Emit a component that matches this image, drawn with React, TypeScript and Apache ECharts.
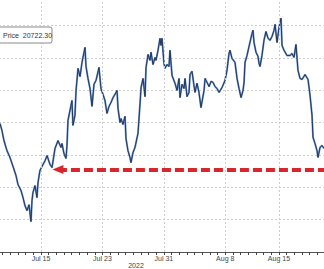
import React, { useEffect, useRef } from "react";
import * as echarts from "echarts";

// x values are days counted from Jul 0, 2022 (Aug d = 31 + d)
const days = [9.65, 9.91, 10.17, 10.56, 10.95, 11.35, 11.74, 12.0, 12.39, 12.65, 12.91, 13.17, 13.43, 13.69, 13.82, 13.95, 14.21, 14.47, 14.6, 14.86, 15.12, 15.52, 15.78, 16.17, 16.43, 16.82, 17.21, 17.6, 17.73, 17.99, 18.25, 18.38, 18.51, 18.77, 19.03, 19.16, 19.42, 19.56, 19.82, 20.08, 20.34, 20.6, 20.73, 20.86, 21.12, 21.38, 21.64, 21.9, 22.16, 22.55, 22.81, 23.07, 23.33, 23.59, 23.86, 24.12, 24.38, 24.64, 24.9, 25.03, 25.29, 25.42, 25.68, 25.94, 26.07, 26.33, 26.59, 26.72, 26.98, 27.24, 27.63, 27.9, 28.03, 28.29, 28.55, 28.68, 28.94, 29.2, 29.33, 29.59, 29.85, 29.98, 30.24, 30.5, 30.63, 30.76, 31.02, 31.15, 31.41, 31.67, 31.8, 32.07, 32.46, 32.72, 32.98, 33.11, 33.37, 33.63, 33.76, 34.02, 34.28, 34.41, 34.67, 34.93, 35.06, 35.32, 35.58, 35.84, 36.24, 36.37, 36.63, 36.89, 37.15, 37.41, 37.67, 37.93, 38.19, 38.58, 38.97, 39.23, 39.49, 39.62, 39.88, 40.27, 40.54, 40.8, 41.06, 41.32, 41.45, 41.58, 41.84, 42.1, 42.49, 42.62, 42.75, 43.01, 43.27, 43.4, 43.53, 43.79, 44.05, 44.31, 44.58, 44.84, 45.1, 45.36, 45.49, 45.75, 46.01, 46.27, 46.4, 46.66, 47.05, 47.44, 47.7, 47.96, 48.22, 48.48, 48.75, 49.01, 49.4, 49.79, 50.05, 50.31, 50.44, 50.7, 50.96, 51.09, 51.35, 51.61, 51.87];

const prices = [21970, 21750, 21440, 21130, 20920, 20640, 20360, 20080, 19900, 19680, 19430, 19280, 19460, 18940, 19590, 19840, 20050, 19680, 20140, 20520, 20640, 20820, 20980, 20700, 20610, 21200, 21440, 21230, 21350, 21040, 20890, 21290, 22060, 22370, 22680, 21910, 22220, 22990, 23670, 23420, 23860, 24170, 24320, 23730, 23360, 23050, 22500, 23180, 23300, 23700, 23050, 22870, 22680, 22280, 22500, 22620, 22770, 22870, 22990, 22430, 22000, 22120, 21940, 22190, 21500, 21130, 20920, 20760, 21070, 21230, 21660, 22590, 23080, 23360, 22800, 23700, 24100, 23920, 24170, 23790, 24010, 23920, 24230, 24600, 24380, 24600, 23830, 23670, 23790, 23730, 24230, 23450, 23210, 22990, 23360, 22770, 23180, 23050, 23360, 22800, 22930, 23480, 23580, 23140, 22930, 23210, 22930, 22460, 22990, 23360, 23240, 23110, 23270, 23240, 23110, 23050, 22930, 23080, 23300, 23610, 24130, 24230, 23980, 23860, 23360, 23050, 22770, 22990, 23240, 23860, 24070, 24350, 24750, 24850, 24470, 24170, 24040, 23830, 23730, 24070, 24540, 24810, 24600, 24540, 24660, 24850, 25030, 24470, 24940, 25220, 24380, 24230, 24070, 24070, 24130, 24010, 24410, 23610, 23360, 23330, 23480, 23330, 22840, 22220, 21540, 21350, 21130, 20920, 21230, 21290, 21200];

const tickDays = [15, 23, 31, 39, 46];
const tickLabels = ["Jul 15", "Jul 23", "Jul 31", "Aug 8", "Aug 15"];
const yearLabel = "2022";
const priceLabel = "Price  20722.30";
const arrowLevel = 20550;
const arrowFromDay = 17.2;
const arrowToDay = 52;

export default function App() {
  const ref = useRef<HTMLDivElement>(null);
  useEffect(() => {
    if (!ref.current) return;
    const chart = echarts.init(ref.current, null, { renderer: "svg" });
    const font = "'Liberation Sans', Arial, sans-serif";
    const points = days.map((d, i) => [d, prices[i]]);
    chart.setOption({
      animation: false,
      backgroundColor: "#ffffff",
      grid: {
        left: -5,
        right: -1,
        top: -7,
        bottom: 17,
        containLabel: false,
        outerBoundsMode: "none",
      },
      xAxis: {
        type: "value",
        min: 9,
        max: 52,
        interval: 1,
        axisLine: { show: true, lineStyle: { color: "#555", width: 1 } },
        axisTick: { show: true, length: 3, lineStyle: { color: "#444", width: 1 } },
        axisLabel: {
          fontSize: 7,
          color: "#444",
          margin: 3,
          fontFamily: font,
          formatter: (v: number) => {
            const i = tickDays.indexOf(Math.round(v));
            return i >= 0 && Math.abs(v - tickDays[i]) < 1e-6 ? tickLabels[i] : "";
          },
        },
        splitLine: { show: false },
      },
      yAxis: {
        type: "value",
        min: 18000,
        max: 26000,
        interval: 1000,
        axisLine: { show: false },
        axisTick: { show: false },
        axisLabel: { show: false },
        splitLine: { show: true, lineStyle: { color: "#cdcdcd", type: [2, 2], width: 1 } },
      },
      series: [
        {
          type: "line",
          data: [],
          z: 1,
          silent: true,
          markLine: {
            silent: true,
            symbol: ["none", "none"],
            label: { show: false },
            lineStyle: { color: "#cdcdcd", type: [2, 2], width: 1 },
            data: tickDays.map((d) => ({ xAxis: d })),
          },
        },
        {
          type: "line",
          z: 2,
          silent: true,
          data: points,
          showSymbol: false,
          symbol: "none",
          lineStyle: { color: "#6f95cc", width: 1.9 },
        },
        {
          type: "line",
          z: 3,
          data: points,
          showSymbol: false,
          symbol: "none",
          lineStyle: { color: "#1a2d50", width: 0.9 },
          markLine: {
            silent: true,
            symbol: ["triangle", "none"],
            symbolSize: [9, 11],
            label: { show: false },
            lineStyle: { color: "#d8262c", type: [9, 4], width: 4, cap: "butt" },
            itemStyle: { color: "#d8262c" },
            data: [
              [
                { coord: [arrowFromDay, arrowLevel] },
                { coord: [arrowToDay, arrowLevel] },
              ],
            ],
          },
        },
      ],
      graphic: [
        {
          type: "rect",
          shape: { x: -4, y: 27, width: 56, height: 16, r: 2 },
          style: { fill: "#ffffff", stroke: "#8a8a8a", lineWidth: 1 },
          z: 10,
        },
        {
          type: "text",
          x: 3,
          y: 35,
          style: {
            text: priceLabel,
            fontSize: 7,
            fontFamily: font,
            fill: "#333",
            verticalAlign: "middle",
            align: "left",
          },
          z: 11,
        },
        {
          type: "text",
          x: 136,
          y: 265,
          style: {
            text: yearLabel,
            fontSize: 7,
            fontFamily: font,
            fill: "#444",
            verticalAlign: "middle",
            align: "center",
          },
        },
      ],
    });
    return () => chart.dispose();
  }, []);
  return (
    <div
      ref={ref}
      style={{ position: "fixed", left: 0, top: 0, width: 324, height: 269 }}
    />
  );
}
